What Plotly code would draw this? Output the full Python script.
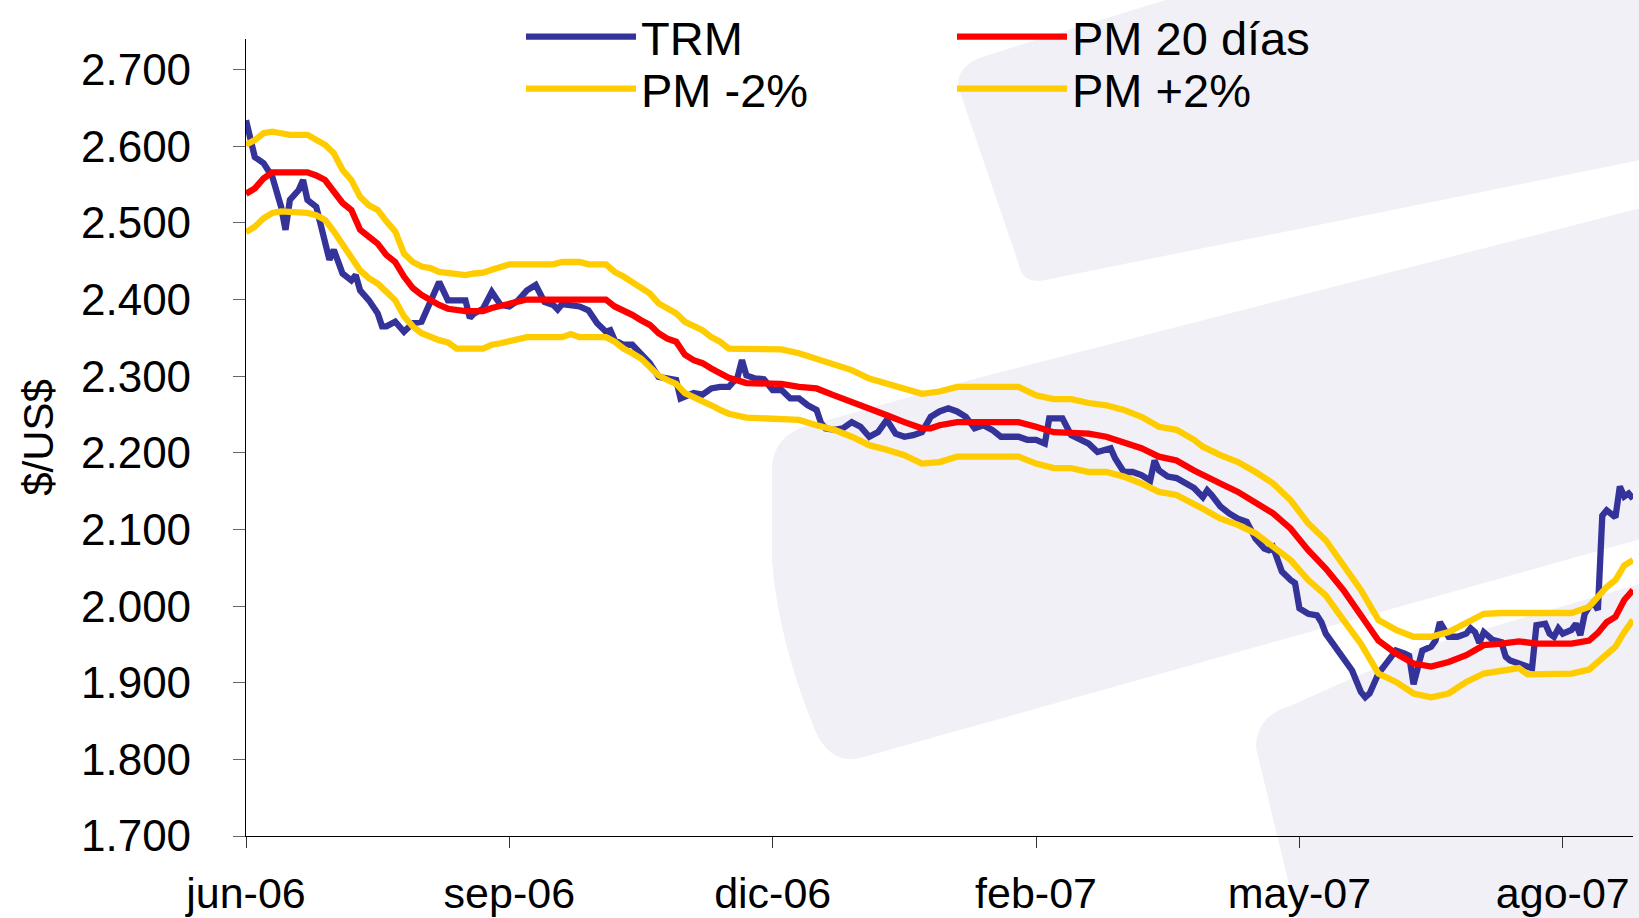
import plotly.graph_objects as go

# ---------------- data (index = trading-day position on the category axis) -------------
tick_index = [0, 60, 120, 180, 240, 300]
tick_labels = ["jun-06", "sep-06", "dic-06", "feb-07", "may-07", "ago-07"]
y_ticks = [1700, 1800, 1900, 2000, 2100, 2200, 2300, 2400, 2500, 2600, 2700]

trm_x = [0, 2, 4, 6, 8, 9, 10, 12, 13, 14, 16, 18, 19, 20, 22, 24, 25, 26, 28, 30,
         31, 32, 34, 36, 38, 40, 42, 44, 46, 48, 50, 51, 52, 54, 56, 58, 60, 62, 64, 66,
         68, 70, 71, 72, 74, 76, 78, 80, 82, 83, 84, 86, 88, 90, 92, 94, 96, 98, 99, 100,
         102, 104, 106, 108, 110, 112, 113, 114, 116, 118, 120, 122, 124, 126, 128, 130, 131, 132, 134, 136,
         138, 140, 142, 144, 146, 148, 150, 152, 154, 156, 158, 160, 162, 164, 166, 168, 170, 172, 174, 176,
         178, 180, 182, 183, 184, 186, 188, 190, 192, 194, 196, 197, 198, 200, 202, 204, 206, 207, 208, 210,
         212, 214, 216, 218, 219, 220, 222, 224, 226, 228, 229, 230, 232, 233, 234, 236, 238, 239, 240, 242,
         244, 245, 246, 248, 250, 252, 254, 255, 256, 258, 260, 262, 264, 265, 266, 268, 270, 271, 272, 274,
         276, 278, 279, 280, 281, 282, 284, 286, 287, 288, 290, 292, 293, 294, 296, 297, 298, 299, 300, 302,
         303, 304, 305, 306, 307, 308, 309, 310, 312, 313, 314, 315, 316]
trm_y = [2634, 2586, 2578, 2560, 2521, 2491, 2530, 2543, 2556, 2530, 2521, 2478, 2452, 2465, 2434, 2425, 2432, 2412, 2399, 2382,
         2365, 2365, 2371, 2358, 2369, 2371, 2395, 2423, 2399, 2399, 2399, 2376, 2382, 2388, 2410, 2393, 2391, 2399, 2412, 2419,
         2397, 2393, 2387, 2394, 2393, 2391, 2386, 2369, 2358, 2360, 2347, 2341, 2341, 2330, 2317, 2299, 2297, 2295, 2271, 2273,
         2278, 2276, 2284, 2286, 2286, 2299, 2321, 2301, 2297, 2296, 2282, 2282, 2271, 2271, 2262, 2256, 2239, 2232, 2230, 2232,
         2240, 2234, 2221, 2227, 2243, 2225, 2221, 2223, 2227, 2247, 2254, 2258, 2254, 2247, 2232, 2236, 2230, 2221, 2221, 2221,
         2217, 2217, 2212, 2245, 2245, 2245, 2223, 2217, 2212, 2201, 2204, 2206, 2193, 2175, 2175, 2171, 2164, 2190, 2177, 2169,
         2167, 2160, 2154, 2142, 2151, 2145, 2130, 2121, 2114, 2110, 2097, 2088, 2075, 2073, 2077, 2045, 2034, 2030, 1997, 1990,
         1988, 1979, 1964, 1949, 1934, 1916, 1888, 1881, 1886, 1912, 1927, 1942, 1938, 1935, 1898, 1942, 1947, 1955, 1979, 1960,
         1960, 1964, 1971, 1966, 1952, 1966, 1956, 1953, 1934, 1929, 1925, 1921, 1919, 1975, 1977, 1964, 1960, 1971, 1964, 1969,
         1977, 1962, 1990, 1999, 2005, 1995, 2118, 2125, 2116, 2156, 2143, 2147, 2140]

pm_x = [0, 2, 4, 6, 8, 10, 12, 14, 16, 18, 20, 22, 24, 26, 28, 30, 32, 34, 36, 38,
        40, 42, 44, 46, 48, 50, 52, 54, 56, 58, 60, 62, 64, 68, 72, 76, 80, 82, 84, 86,
        88, 90, 92, 94, 96, 98, 100, 102, 104, 106, 108, 110, 114, 118, 122, 126, 130, 134, 138, 142,
        146, 150, 154, 156, 158, 162, 164, 168, 172, 176, 180, 184, 188, 192, 196, 200, 204, 208, 212, 216,
        218, 222, 226, 230, 234, 238, 242, 246, 250, 254, 258, 262, 266, 270, 274, 278, 282, 286, 290, 294,
        298, 302, 306, 308, 310, 312, 314, 316]
pm_y = [2538, 2545, 2558, 2566, 2566, 2566, 2566, 2566, 2562, 2556, 2541, 2526, 2517, 2491, 2482, 2473, 2458, 2449, 2430, 2415,
        2406, 2399, 2393, 2388, 2386, 2385, 2385, 2385, 2389, 2392, 2393, 2396, 2400, 2400, 2400, 2400, 2400, 2400, 2391, 2386,
        2380, 2373, 2367, 2356, 2349, 2345, 2328, 2321, 2317, 2310, 2305, 2298, 2291, 2290, 2290, 2286, 2284, 2275, 2267, 2258,
        2249, 2240, 2232, 2232, 2236, 2240, 2240, 2240, 2240, 2240, 2234, 2227, 2226, 2225, 2221, 2214, 2206, 2195, 2190, 2177,
        2172, 2160, 2149, 2136, 2121, 2101, 2073, 2049, 2021, 1988, 1955, 1938, 1925, 1921, 1927, 1936, 1949, 1951, 1954, 1951,
        1951, 1951, 1955, 1965, 1979, 1986, 2008, 2021]

up_x = [0, 2, 4, 6, 8, 10, 14, 16, 18, 20, 22, 24, 26, 28, 30, 32, 34, 36, 38, 40,
        42, 44, 46, 48, 50, 52, 54, 56, 58, 60, 70, 72, 76, 78, 82, 84, 86, 88, 90, 92,
        94, 96, 98, 100, 102, 104, 106, 108, 110, 122, 126, 130, 134, 138, 142, 146, 150, 154, 158, 162,
        176, 180, 184, 188, 192, 196, 200, 204, 208, 212, 216, 218, 222, 226, 230, 234, 238, 242, 246, 250,
        254, 258, 262, 266, 270, 274, 278, 282, 286, 302, 306, 310, 312, 314, 316]
up_y = [2602, 2608, 2617, 2619, 2617, 2615, 2615, 2608, 2602, 2591, 2569, 2556, 2534, 2523, 2517, 2502, 2489, 2460, 2449, 2443,
        2441, 2436, 2434, 2432, 2432, 2434, 2435, 2439, 2443, 2446, 2446, 2449, 2449, 2446, 2446, 2436, 2430, 2423, 2417, 2408,
        2395, 2389, 2382, 2371, 2365, 2360, 2351, 2345, 2336, 2335, 2330, 2323, 2317, 2308, 2297, 2291, 2284, 2277, 2280, 2286,
        2286, 2275, 2270, 2270, 2265, 2262, 2256, 2247, 2234, 2230, 2217, 2208, 2197, 2188, 2175, 2160, 2138, 2108, 2086, 2053,
        2021, 1982, 1969, 1960, 1960, 1966, 1979, 1990, 1991, 1991, 1999, 2025, 2034, 2053, 2060]

lo_x = [0, 2, 4, 6, 8, 12, 14, 16, 18, 20, 22, 24, 26, 28, 30, 32, 34, 36, 38, 40,
        42, 44, 46, 48, 54, 56, 58, 60, 62, 64, 72, 74, 76, 82, 84, 86, 88, 90, 92, 94,
        96, 98, 100, 102, 104, 106, 108, 110, 114, 118, 122, 126, 130, 134, 138, 142, 146, 150, 154, 158,
        162, 176, 180, 184, 188, 192, 196, 200, 204, 208, 212, 216, 218, 222, 226, 230, 234, 238, 242, 246,
        250, 254, 258, 262, 266, 270, 274, 278, 282, 286, 290, 292, 302, 306, 310, 312, 314, 316]
lo_y = [2488, 2495, 2506, 2513, 2515, 2515, 2513, 2510, 2504, 2489, 2471, 2456, 2438, 2428, 2421, 2410, 2399, 2378, 2365, 2356,
        2351, 2347, 2344, 2336, 2336, 2341, 2343, 2345, 2349, 2351, 2351, 2355, 2351, 2351, 2345, 2336, 2330, 2323, 2312, 2301,
        2295, 2290, 2278, 2273, 2269, 2262, 2256, 2251, 2246, 2245, 2243, 2243, 2236, 2230, 2221, 2210, 2204, 2197, 2186, 2188,
        2195, 2195, 2186, 2180, 2180, 2175, 2175, 2169, 2160, 2149, 2145, 2134, 2127, 2114, 2106, 2095, 2077, 2060, 2034, 2014,
        1982, 1951, 1912, 1901, 1886, 1881, 1886, 1901, 1912, 1916, 1919, 1911, 1912, 1917, 1938, 1947, 1966, 1982]

# ---------------- styling -------------
FONT = "Liberation Sans, Arial, sans-serif"
BLUE, RED, GOLD = "#333399", "#FF0000", "#FFCC00"
LW = 6.3

fig = go.Figure()
fig.add_trace(go.Scatter(x=trm_x, y=trm_y, mode="lines", name="TRM",
                         line=dict(color=BLUE, width=LW), legend="legend"))
fig.add_trace(go.Scatter(x=pm_x, y=pm_y, mode="lines", name="PM 20 días",
                         line=dict(color=RED, width=LW), legend="legend"))
fig.add_trace(go.Scatter(x=lo_x, y=lo_y, mode="lines", name="PM -2%",
                         line=dict(color=GOLD, width=LW), legend="legend2"))
fig.add_trace(go.Scatter(x=up_x, y=up_y, mode="lines", name="PM +2%",
                         line=dict(color=GOLD, width=LW), legend="legend2"))

# plot-area geometry in pixels (for decorative watermark only)
L, T, W, H = 246, 39, 1387, 797


def pp(X, Y):
    return f"{(X - L) / W:.4f},{(T + H - Y) / H:.4f}"


wm = "#F1F0F6"
shapeA = ("M" + pp(958, 86) + " Q" + pp(958, 64) + " " + pp(985, 56) + " L" + pp(1230, -20)
          + " L" + pp(1680, -20) + " L" + pp(1680, 152) + " L" + pp(1045, 280)
          + " Q" + pp(1022, 285) + " " + pp(1018, 262) + " Z")
shapeB = ("M" + pp(772, 470) + " Q" + pp(772, 435) + " " + pp(810, 425) + " L" + pp(970, 380)
          + " L" + pp(1680, 198) + " L" + pp(1680, 528) + " L" + pp(860, 758)
          + " Q" + pp(830, 765) + " " + pp(815, 730) + " Q" + pp(778, 640) + " " + pp(772, 560) + " Z")
shapeC = ("M" + pp(1256, 748) + " Q" + pp(1256, 716) + " " + pp(1290, 706) + " L" + pp(1420, 648)
          + " L" + pp(1680, 572) + " L" + pp(1680, 930) + " L" + pp(1300, 930) + " Z")

shapes = [dict(type="path", path=p, xref="paper", yref="paper", fillcolor=wm,
               line=dict(width=0), layer="below") for p in (shapeA, shapeB, shapeC)]

legend_common = dict(orientation="h", font=dict(family=FONT, size=47, color="black"),
                     bgcolor="rgba(0,0,0,0)", borderwidth=0, itemwidth=110,
                     entrywidth=306, entrywidthmode="pixels", xanchor="left", yanchor="middle",
                     itemclick=False, itemdoubleclick=False)

fig.update_layout(
    width=1639, height=918,
    margin=dict(l=L, r=1639 - L - W, t=T, b=918 - T - H, autoexpand=False),
    paper_bgcolor="white", plot_bgcolor="rgba(0,0,0,0)",
    separators=",.",
    font=dict(family=FONT, color="black"),
    showlegend=True,
    legend=dict(x=(521 - L) / W, y=(T + H - 37) / H, **legend_common),
    legend2=dict(x=(521 - L) / W, y=(T + H - 89) / H, **legend_common),
    shapes=shapes,
    xaxis=dict(range=[0, 316], tickmode="array", tickvals=tick_index, ticktext=tick_labels,
               showgrid=False, zeroline=False, showline=True, linecolor="black", linewidth=1.2,
               ticks="outside", ticklen=11, tickcolor="#333", tickwidth=1.2,
               tickfont=dict(family=FONT, size=43, color="black"), ticklabelstandoff=8,
               fixedrange=True),
    yaxis=dict(range=[1700, 2740], tickmode="array", tickvals=y_ticks, tickformat=",d",
               showgrid=False, zeroline=False, showline=True, linecolor="black", linewidth=1.2,
               ticks="outside", ticklen=12, tickcolor="#666", tickwidth=1.2,
               tickfont=dict(family=FONT, size=44, color="black"), ticklabelstandoff=33,
               title=dict(text="$/US$", font=dict(family=FONT, size=42, color="black"), standoff=14),
               fixedrange=True),
)

fig.write_html("out.html", config={"displayModeBar": False},
               post_script="document.body.style.margin='0px';document.body.style.padding='0px';")
